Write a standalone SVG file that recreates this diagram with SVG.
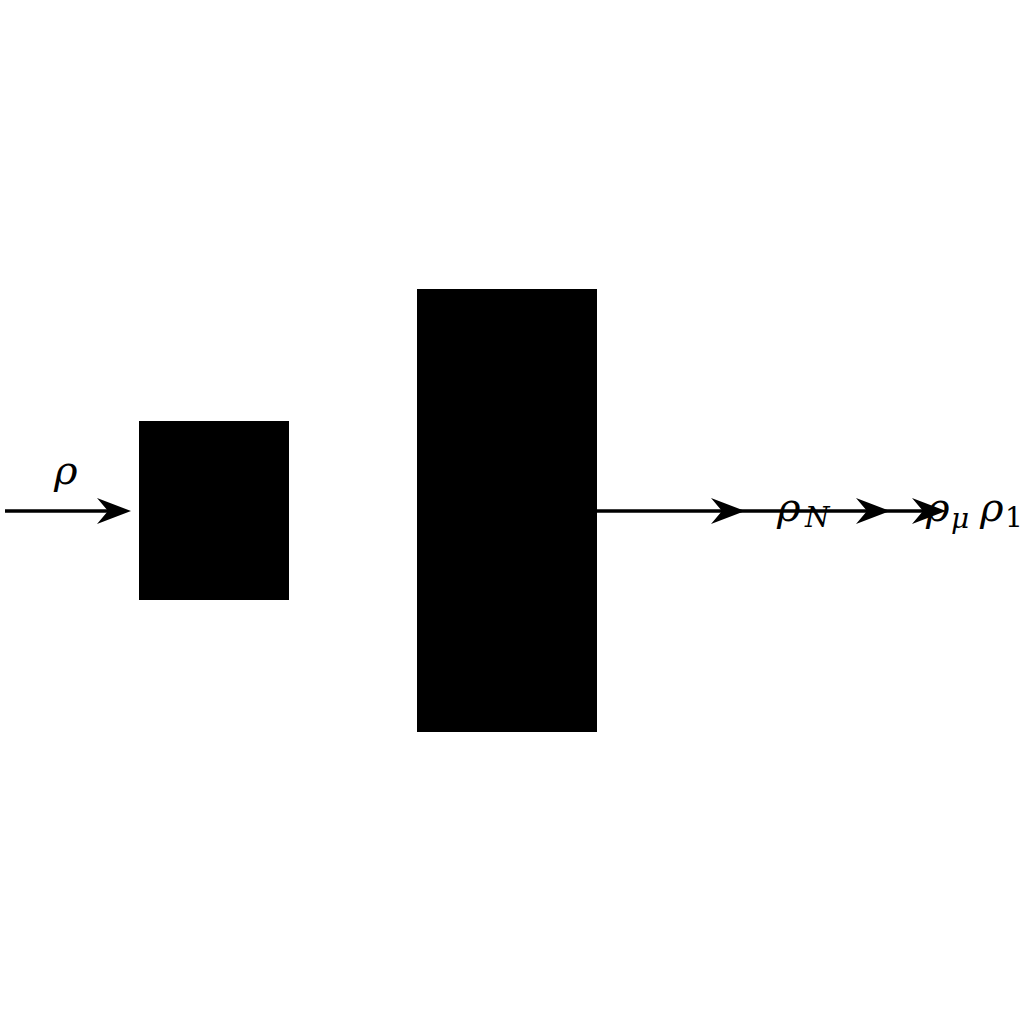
<svg xmlns="http://www.w3.org/2000/svg" width="1024" height="1024" viewBox="0 0 1024 1024">
<style>
.blk{fill:#000}
.ln{stroke:#000;stroke-width:3.6;fill:none}
.m{font-family:"DejaVu Serif","Liberation Serif",serif;font-style:italic;fill:#000}
.r{font-family:"DejaVu Serif","Liberation Serif",serif;fill:#000}
</style>
<defs>
<path id="ah" d="M0,0 L-34,-13 L-23,0 L-34,13 Z" fill="#000"/>
</defs>
<rect width="1024" height="1024" fill="#fff"/>
<g id="node1"><rect class="blk" x="139" y="421" width="150" height="179"/></g>
<g id="node2"><rect class="blk" x="417" y="289" width="180" height="443"/></g>
<g id="connectors">
<line class="ln" x1="5" y1="511" x2="115" y2="511"/>
<use href="#ah" x="131" y="511"/>
<line class="ln" x1="597" y1="511" x2="935" y2="511"/>
<use href="#ah" x="745" y="511"/>
<use href="#ah" x="890" y="511"/>
<use href="#ah" x="946" y="511"/>
</g>
<g id="labels">
<text class="m" x="54" y="484" font-size="40">ρ</text>
<text class="m" x="777" y="521" font-size="40">ρ</text>
<text class="m" x="805" y="527" font-size="28">N</text>
<text class="m" x="926" y="521" font-size="40">ρ</text>
<text class="m" x="951" y="528" font-size="28">μ</text>
<text class="m" x="980" y="521" font-size="40">ρ</text>
<text class="r" x="1005" y="527" font-size="28">1</text>
</g>
</svg>
